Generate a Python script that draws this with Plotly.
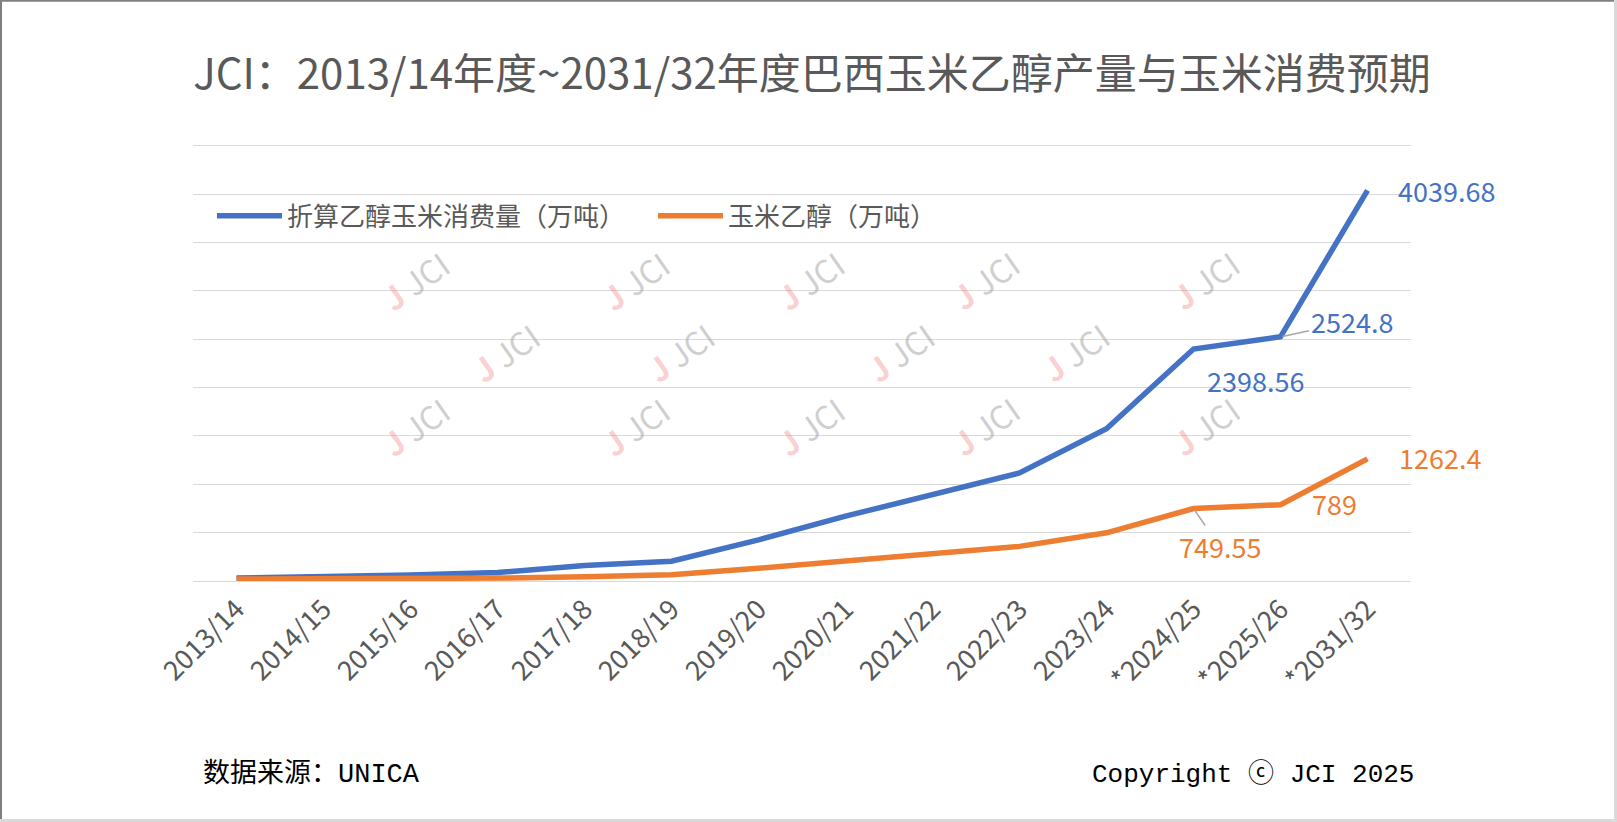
import plotly.graph_objects as go

categories = ["2013/14", "2014/15", "2015/16", "2016/17", "2017/18", "2018/19", "2019/20",
              "2020/21", "2021/22", "2022/23", "2023/24", "*2024/25", "*2025/26", "*2031/32"]
corn_consumption = [30, 42, 62, 88, 160, 205, 425, 670, 887, 1117, 1574, 2398.56, 2524.8, 4039.68]
corn_ethanol = [20, 22, 26, 30, 45, 64, 132, 206, 278, 358, 498, 749.55, 789, 1262.4]
grid_values = [0, 500, 1000, 1500, 2000, 2500, 3000, 3500, 4000, 4500]

name_blue = "折算乙醇玉米消费量（万吨）"
name_orange = "玉米乙醇（万吨）"
title_text = "JCI：2013/14年度~2031/32年度巴西玉米乙醇产量与玉米消费预期"
source_text = "数据来源：UNICA"
copyright_text = "Copyright ⓒ JCI 2025"

BLUE = "#4472C4"
ORANGE = "#ED7D31"
GRAY_TXT = "#595959"
FONT = "Noto Sans CJK SC"

W, H = 1617, 822
Y_TOP = 4500
Y_MAX = 4560
TOP0 = 146  # pixel of the 4500 gridline
L, R, B = 193, 206, 241
PH = (H - B - TOP0) * Y_MAX / Y_TOP
T = H - B - PH
PW = W - L - R


def px(x):
    return (x - L) / PW


def py(y):
    return (H - B - y) / PH


fig = go.Figure()
fig.add_trace(go.Scatter(x=categories, y=corn_consumption, mode="lines", name=name_blue,
                         line=dict(color=BLUE, width=5.5)))
fig.add_trace(go.Scatter(x=categories, y=corn_ethanol, mode="lines", name=name_orange,
                         line=dict(color=ORANGE, width=5.5)))

ann = []
lab_font = dict(family=FONT, size=27)
# value labels (anchored at data points)
ann.append(dict(x=categories[13], y=corn_consumption[13], text="4039.68", showarrow=False,
                xanchor="left", yanchor="middle", xshift=28, yshift=0,
                font=dict(lab_font, color=BLUE)))
ann.append(dict(x=categories[12], y=corn_consumption[12], text="2524.8", showarrow=True,
                arrowhead=0, arrowwidth=1.5, arrowcolor="#A6A6A6", ax=71, ay=-15, standoff=2,
                font=dict(lab_font, color=BLUE)))
ann.append(dict(x=categories[11], y=corn_consumption[11], text="2398.56", showarrow=False,
                xanchor="center", yanchor="middle", xshift=62, yshift=-31,
                font=dict(lab_font, color=BLUE)))
ann.append(dict(x=categories[13], y=corn_ethanol[13], text="1262.4", showarrow=False,
                xanchor="left", yanchor="middle", xshift=29, yshift=1,
                font=dict(lab_font, color=ORANGE)))
ann.append(dict(x=categories[12], y=corn_ethanol[12], text="789", showarrow=False,
                xanchor="left", yanchor="middle", xshift=29, yshift=1,
                font=dict(lab_font, color=ORANGE)))
ann.append(dict(x=categories[11], y=corn_ethanol[11], text="749.55", showarrow=True,
                arrowhead=0, arrowwidth=1.5, arrowcolor="#A6A6A6", ax=26, ay=38, standoff=2,
                font=dict(lab_font, color=ORANGE)))

# watermarks
wm_rows = [(238, [370, 590, 810, 1030, 1250]), (352, [460, 680, 900, 1120]),
           (468, [370, 590, 810, 1030, 1250])]
for wy, xs in wm_rows:
    for wx in xs:
        ann.append(dict(xref="paper", yref="paper", x=px(wx), y=py(wy), showarrow=False,
                        text="<span style='color:rgba(245,120,120,0.35)'><b>J</b></span>"
                             "<span style='color:rgba(160,160,160,0.5)'> JCI</span>",
                        textangle=-35, font=dict(family=FONT, size=32)))

# footer
ann.append(dict(xref="paper", yref="paper", x=px(201), y=py(774), xanchor="left", yanchor="middle",
                text=source_text, showarrow=False,
                font=dict(family="Liberation Mono, " + FONT, size=27, color="#000000")))
ann.append(dict(xref="paper", yref="paper", x=px(1416), y=py(774), xanchor="right", yanchor="middle",
                text=copyright_text, showarrow=False,
                font=dict(family="Liberation Mono, " + FONT, size=26, color="#000000")))

shapes = [
    dict(type="line", xref="paper", yref="paper", x0=px(1), x1=px(1), y0=py(0), y1=py(H),
         line=dict(color="#7F7F7F", width=2)),
    dict(type="line", xref="paper", yref="paper", x0=px(0), x1=px(W), y0=py(1), y1=py(1),
         line=dict(color="#7F7F7F", width=2)),
    dict(type="line", xref="paper", yref="paper", x0=px(W - 1.5), x1=px(W - 1.5), y0=py(0), y1=py(H),
         line=dict(color="#D9D9D9", width=3)),
    dict(type="line", xref="paper", yref="paper", x0=px(0), x1=px(W), y0=py(H - 1.5), y1=py(H - 1.5),
         line=dict(color="#D9D9D9", width=3)),
]

fig.update_layout(
    width=W, height=H,
    margin=dict(l=L, r=R, t=T, b=B, pad=0),
    paper_bgcolor="white", plot_bgcolor="white",
    title=dict(text=title_text, x=812 / W, xanchor="center", y=1 - 74 / H, yanchor="middle",
               yref="container", font=dict(family=FONT, size=42, color=GRAY_TXT)),
    showlegend=True,
    legend=dict(orientation="h", x=px(212), y=py(216), xanchor="left", yanchor="middle",
                font=dict(family=FONT, size=26, color=GRAY_TXT), bgcolor="rgba(0,0,0,0)",
                entrywidth=361, itemwidth=65, tracegroupgap=0),
    xaxis=dict(type="category", range=[-0.5, 13.5], showgrid=False, zeroline=False, showline=False,
               ticks="", tickangle=-45, tickfont=dict(family=FONT, size=27, color=GRAY_TXT),
               ticklabelstandoff=6, fixedrange=True),
    yaxis=dict(range=[0, Y_MAX], tickvals=grid_values,
               showgrid=True, gridcolor="#D9D9D9", gridwidth=1.3,
               zeroline=True, zerolinecolor="#D9D9D9", zerolinewidth=1.3, showticklabels=False,
               ticks="", showline=False, fixedrange=True),
    annotations=ann,
    shapes=shapes,
)

fig.write_html("out.html", config={"displayModeBar": False},
               post_script="document.body.style.margin='0px';document.body.style.overflow='hidden';")
